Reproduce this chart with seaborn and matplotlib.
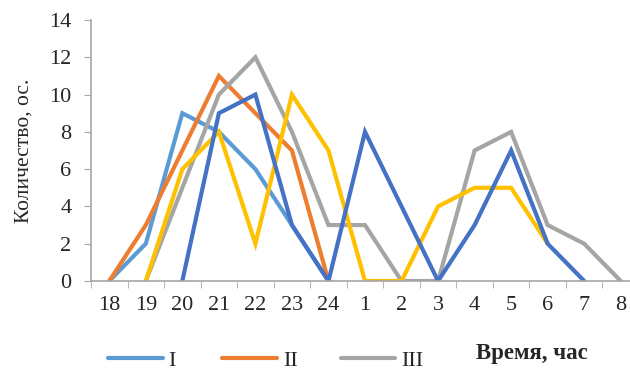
import numpy as np
import pandas as pd
import matplotlib
matplotlib.use("Agg")
import matplotlib.pyplot as plt
import seaborn as sns
from matplotlib.lines import Line2D
from matplotlib.ticker import FixedLocator

hours = ["18", "19", "20", "21", "22", "23", "24", "1", "2", "3", "4", "5", "6", "7", "8"]
nan = np.nan
series_I = [0, 2, 9, 8, 6, 3, 0, nan, nan, nan, nan, nan, nan, nan, nan]
series_II = [0, 3, 7, 11, 9, 7, 0, nan, nan, nan, nan, nan, nan, nan, nan]
series_III = [nan, 0, 5, 10, 12, 8, 3, 3, 0, 0, 7, 8, 3, 2, 0]
series_IV = [nan, 0, 6, 8, 2, 10, 7, 0, 0, 4, 5, 5, 2, nan, nan]
series_V = [nan, nan, 0, 9, 10, 3, 0, 8, 4, 0, 3, 7, 2, 0, nan]

names = ["I", "II", "III", "IV", "V"]
values = [series_I, series_II, series_III, series_IV, series_V]
colors = ["#5B9BD5", "#ED7D31", "#A5A5A5", "#FFC000", "#4472C4"]

rows = []
for name, vals in zip(names, values):
    for i, v in enumerate(vals):
        if not np.isnan(v):
            rows.append({"pos": i, "count": v, "series": name})
df = pd.DataFrame(rows)

sns.set_style("white")
plt.rcParams["font.family"] = ["Liberation Serif", "DejaVu Serif"]

W, H = 630, 370
fig = plt.figure(figsize=(W / 100, H / 100), dpi=100)
ax = fig.add_axes([91 / W, 1 - 281 / H, 548 / W, 261 / H])

sns.lineplot(data=df, x="pos", y="count", hue="series", hue_order=names,
             palette=colors, linewidth=3.0, ax=ax, legend=False, sort=True)
for line in ax.lines:
    line.set_solid_joinstyle("miter")
    line.set_solid_capstyle("round")

ax.set_xlim(-0.5, 14.5)
ax.set_ylim(0, 14)
ax.set_xticks(range(len(hours)))
ax.set_xticklabels(hours, fontsize=16)
ax.xaxis.set_minor_locator(FixedLocator(np.arange(-0.5, 15, 1)))
ax.tick_params(axis="x", which="major", length=0, pad=11)
ax.tick_params(axis="x", which="minor", length=5, color="#A6A6A6", direction="out", bottom=True)
ax.set_yticks(range(0, 15, 2))
ax.set_yticklabels([str(v) for v in range(0, 15, 2)], fontsize=16)
ax.tick_params(axis="y", length=5, color="#A6A6A6", direction="out", left=True, pad=9)

for s in ["top", "right"]:
    ax.spines[s].set_visible(False)
for s in ["left", "bottom"]:
    ax.spines[s].set_color("#A6A6A6")
    ax.spines[s].set_linewidth(1.2)

ax.set_xlabel("")
ax.set_ylabel("Количество, ос.", fontsize=15.5, labelpad=11)

# legend row along the bottom edge (first three series)
legend_items = [(108, 163, 168), (222, 277, 283), (341, 395, 401)]
for (x0, x1, tx), name, c in zip(legend_items, names[:3], colors[:3]):
    fig.add_artist(Line2D([x0 / W, x1 / W], [1 - 358 / H, 1 - 358 / H],
                          transform=fig.transFigure, color=c, lw=3.0,
                          solid_capstyle="round"))
    fig.text(tx / W, 1 - 361 / H, name, fontsize=16, va="center", ha="left")

fig.text(476 / W, 1 - 354 / H, "Время, час", fontsize=16.5, fontweight="bold",
         va="center", ha="left")

fig.savefig("out.png", dpi=100)
